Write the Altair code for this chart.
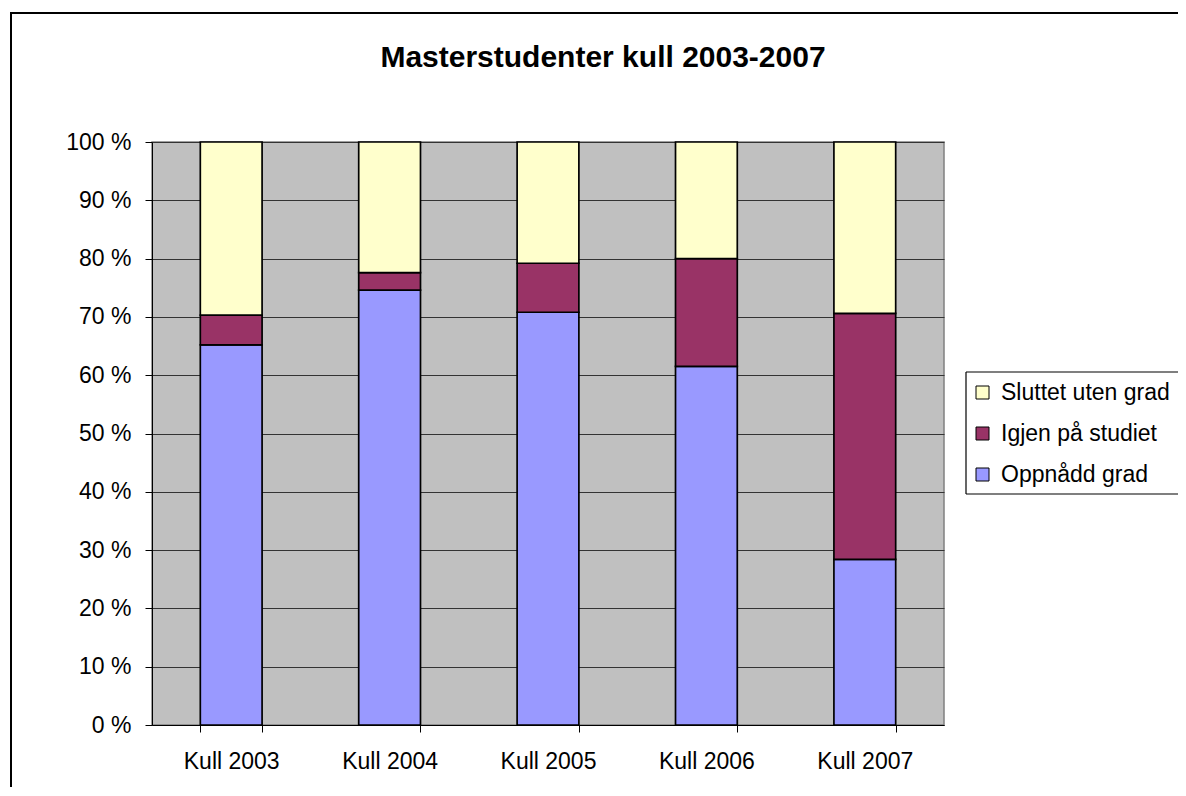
import altair as alt
import pandas as pd

title_text = "Masterstudenter kull 2003-2007"
categories = ["Kull 2003", "Kull 2004", "Kull 2005", "Kull 2006", "Kull 2007"]
series_names = ["Oppnådd grad", "Igjen på studiet", "Sluttet uten grad"]
oppnadd = [65.2, 74.6, 70.8, 61.5, 28.4]
igjen = [5.1, 3.0, 8.4, 18.5, 42.2]
sluttet = [29.7, 22.4, 20.8, 20.0, 29.4]
series_colors = ["#9999FF", "#993366", "#FFFFCC"]
y_ticks = [0, 10, 20, 30, 40, 50, 60, 70, 80, 90, 100]

FONT = "Liberation Sans"

rows = []
for si, (name, vals) in enumerate(zip(series_names, [oppnadd, igjen, sluttet])):
    for c, v in zip(categories, vals):
        rows.append({"cat": c, "series": name, "rank": si, "value": v})
df = pd.DataFrame(rows)

legend_order = list(reversed(series_names))
legend_colors = list(reversed(series_colors))

bars = (
    alt.Chart(df)
    .transform_stack(
        stack="value",
        as_=["y0", "y1"],
        groupby=["cat"],
        sort=[alt.SortField("rank", order="ascending")],
    )
    .mark_bar(stroke="black", strokeWidth=1.7)
    .encode(
        x=alt.X(
            "cat:N",
            sort=categories,
            title=None,
            scale=alt.Scale(paddingInner=0.61, paddingOuter=0.305),
            axis=alt.Axis(
                labelAngle=0,
                labelFont=FONT,
                labelFontSize=23,
                labelColor="black",
                labelBaseline="top",
                labelPadding=18,
                tickBand="extent",
                tickSize=7,
                tickColor="black",
                domainColor="black",
                domainWidth=1,
                grid=False,
            ),
        ),
        y=alt.Y(
            "y1:Q",
            title=None,
            scale=alt.Scale(domain=[0, 100], nice=False),
            axis=alt.Axis(
                values=y_ticks,
                labelExpr="datum.value + ' %'",
                labelFont=FONT,
                labelFontSize=23,
                labelColor="black",
                labelPadding=14,
                tickSize=7,
                tickColor="black",
                domainColor="black",
                domainWidth=1,
                grid=True,
                gridColor="#333333",
                gridWidth=1.2,
            ),
        ),
        y2="y0:Q",
        color=alt.Color(
            "series:N",
            scale=alt.Scale(domain=legend_order, range=legend_colors),
            legend=alt.Legend(
                orient="none",
                legendX=819,
                legendY=239,
                title=None,
                symbolType="square",
                symbolSize=169,
                symbolStrokeColor="black",
                symbolStrokeWidth=1,
                labelFont=FONT,
                labelFontSize=23,
                labelColor="black",
                labelOffset=7,
                labelLimit=400,
                rowPadding=17,
                padding=0,
            ),
        ),
    )
)

one = pd.DataFrame({"k": [0]})
EDGE = 1026  # right edge of the svg, in plot coordinates

legend_fill = alt.Chart(one).mark_rect(fill="white").encode(
    x=alt.value(814), x2=alt.value(EDGE), y=alt.value(230), y2=alt.value(352)
)
legend_left = alt.Chart(one).mark_rule(color="black", strokeWidth=1.2).encode(
    x=alt.value(814), y=alt.value(230), y2=alt.value(352)
)
legend_top = alt.Chart(one).mark_rule(color="black", strokeWidth=1.2).encode(
    x=alt.value(814), x2=alt.value(EDGE), y=alt.value(230)
)
legend_bottom = alt.Chart(one).mark_rule(color="black", strokeWidth=1.2).encode(
    x=alt.value(814), x2=alt.value(EDGE), y=alt.value(352)
)

frame_left = alt.Chart(one).mark_rule(color="black", strokeWidth=2).encode(
    x=alt.value(-141), y=alt.value(-130), y2=alt.value(646)
)
frame_top = alt.Chart(one).mark_rule(color="black", strokeWidth=2).encode(
    x=alt.value(-142), x2=alt.value(EDGE), y=alt.value(-129)
)

title = (
    alt.Chart(pd.DataFrame({"t": [title_text]}))
    .mark_text(
        font=FONT,
        fontSize=30,
        fontWeight="bold",
        color="black",
        align="center",
        baseline="alphabetic",
    )
    .encode(text="t:N", x=alt.value(451), y=alt.value(-75))
)

chart = (
    alt.layer(frame_left, frame_top, legend_fill, legend_left, legend_top,
              legend_bottom, bars, title)
    .properties(
        width=792,
        height=583,
        autosize=alt.AutoSizeParams(type="none"),
        padding={"left": 144, "top": 134, "right": 234, "bottom": 62},
        background="white",
    )
    .configure_view(fill="#C0C0C0", stroke="#808080", strokeWidth=1.5)
)

chart.save("out.html", embed_options={"renderer": "svg", "actions": False})
